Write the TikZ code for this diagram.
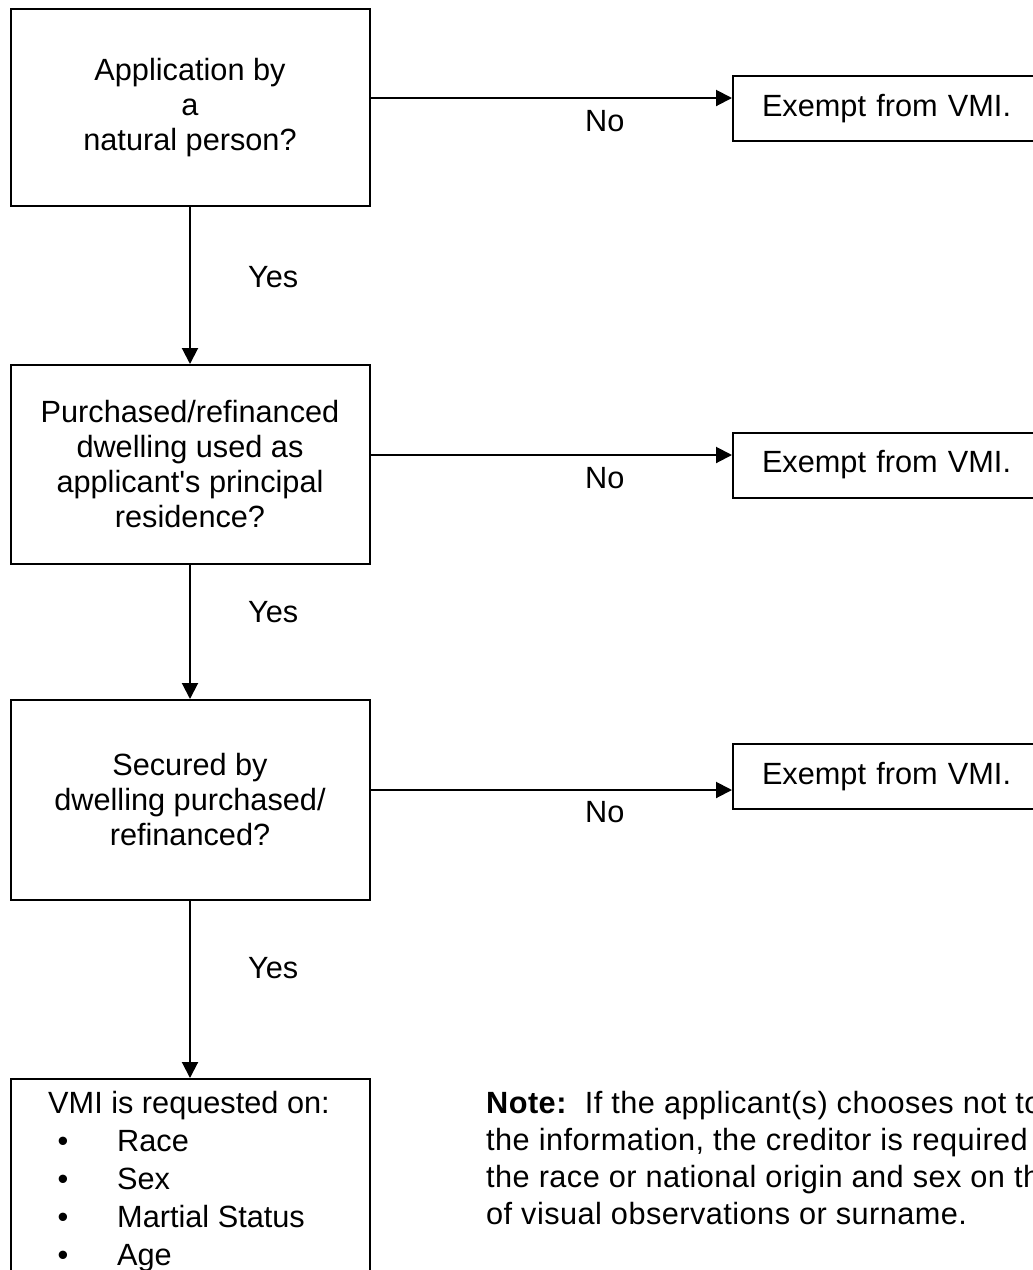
\documentclass[tikz,border=0pt]{standalone}
\usepackage{fontspec}
\setmainfont{Liberation Sans}
\usepackage{tikz}
\usetikzlibrary{arrows.meta}

\begin{document}

\begin{tikzpicture}[x=1pt, y=-1pt,
  every node/.style={font=\fontsize{30.7}{35}\selectfont, inner sep=0},
  qbox/.style={draw, line width=2, minimum width=359, align=center},
  exbox/.style={draw, line width=2, minimum height=65, text width=300, inner xsep=29, align=left, anchor=west},
  flow/.style={-{Triangle[length=16pt, width=16pt]}, line width=2},
  lbl/.style={anchor=base west},
  notetext/.style={lbl, font=\fontsize{30.7}{35}\selectfont\addfontfeature{LetterSpace=1.5}}]

  \pgfmathsetmacro{\xq}{190};
  \pgfmathsetmacro{\xe}{732};

  \useasboundingbox (0, 0) rectangle (1033, 1270);
  \clip (0, 0) rectangle (1033, 1270);

  % the three questions
  \node[qbox, minimum height=197] (q1) at (\xq, 107.5) {Application by\\a\\natural person?};
  \node[qbox, minimum height=199] (q2) at (\xq, 464.5) {Purchased/refinanced\\dwelling used as\\applicant\textquotesingle s principal\\residence?};
  \node[qbox, minimum height=200] (q3) at (\xq, 800) {Secured by\\dwelling purchased/\\refinanced?};
  \node[qbox, minimum height=260] (q4) at (\xq, 1209) {};

  % exempt boxes, cut by the right edge
  \node[exbox] (ex1) at (\xe, 108.5) {Exempt from VMI.};
  \node[exbox] (ex2) at (\xe, 465) {Exempt from VMI.};
  \node[exbox] (ex3) at (\xe, 776.5) {Exempt from VMI.};

  \coordinate (h1) at (0, 98);
  \coordinate (h2) at (0, 455);
  \coordinate (h3) at (0, 790);

  \draw[flow] (q1.south) -- (q2.north);
  \draw[flow] (q2.south) -- (q3.north);
  \draw[flow] (q3.south) -- (q4.north);

  \draw[flow] (q1.east |- h1) -- (ex1.west |- h1);
  \draw[flow] (q2.east |- h2) -- (ex2.west |- h2);
  \draw[flow] (q3.east |- h3) -- (ex3.west |- h3);

  \node[lbl] (y1) at (248, 287) {Yes};
  \node[lbl] (y2) at (248, 622) {Yes};
  \node[lbl] (y3) at (248, 978) {Yes};

  \node[lbl] (n1) at (585, 131) {No};
  \node[lbl] (n2) at (585, 488) {No};
  \node[lbl] (n3) at (585, 822) {No};

  % what is asked for
  \node[lbl] (vmi) at (48, 1113) {VMI is requested on:};
  \foreach \attr [count=\i] in {Race, Sex, Martial Status, Age} {
    \node[anchor=base] (b\i) at (63, {1113 + 38*\i}) {\textbullet};
    \node[lbl] (a\i) at (117, {1113 + 38*\i}) {\attr};
  }

  % note
  \node[notetext] (note1) at (486, 1113) {\textbf{Note:}\ \ If the applicant(s) chooses not to};
  \node[notetext] (note2) at (486, 1150) {the information, the creditor is required};
  \node[notetext] (note3) at (486, 1187) {the race or national origin and sex on the};
  \node[notetext] (note4) at (486, 1224) {of visual observations or surname.};

\end{tikzpicture}

\end{document}
